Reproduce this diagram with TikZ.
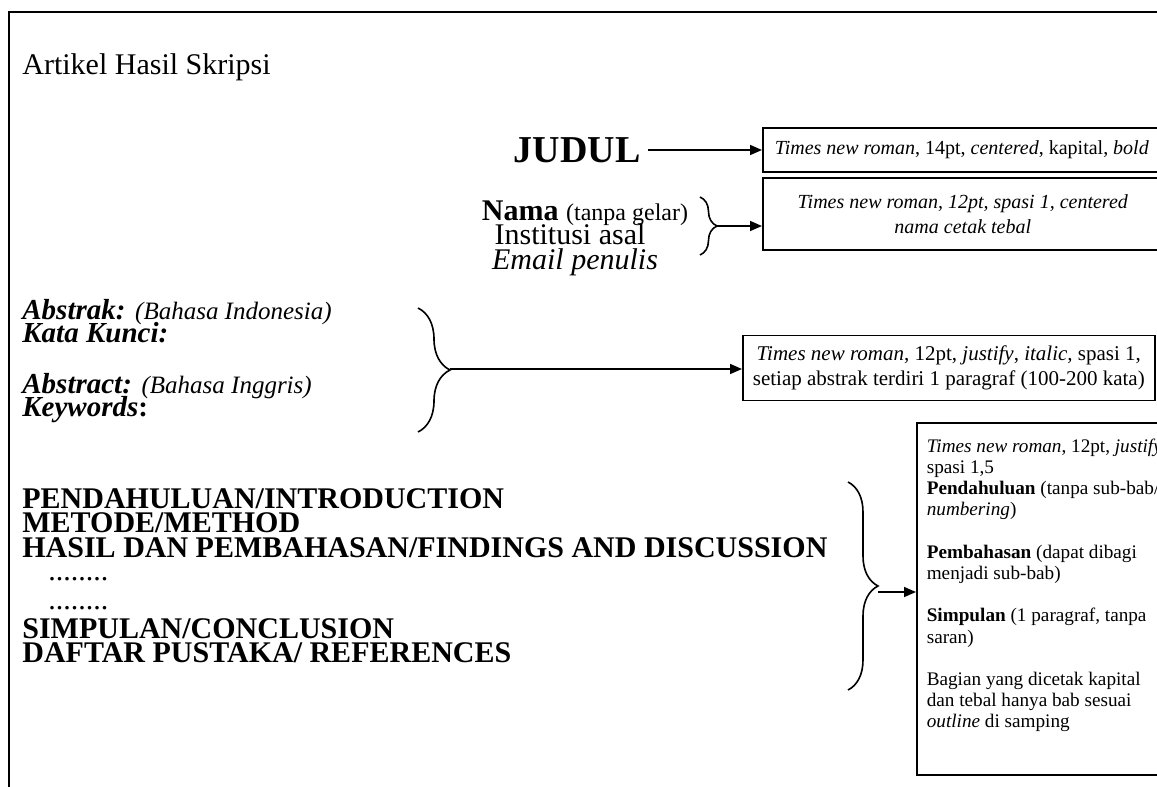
\documentclass[tikz,border=0pt]{standalone}
\usepackage{fontspec}
\setmainfont{Liberation Serif}
\usetikzlibrary{positioning}
\usetikzlibrary{decorations.pathreplacing}
\usetikzlibrary{arrows.meta}
\tikzset{%
  pointer/.style = {-{Triangle[length=6pt,width=5pt]},line width=0.8pt},
  curly/.style = {decorate,decoration={brace,amplitude=#1},line width=0.8pt},
  note/.style = {rectangle,draw,line width=0.8pt,inner xsep=5pt,
        font=\fontsize{10}{12.5}\selectfont},
  lbl/.style = {inner sep=0pt,anchor=base west},
  mid/.style = {inner sep=0pt,anchor=base,font=\fontsize{15}{17}\selectfont},
  head/.style = {lbl,font=\fontsize{15}{16}\selectfont\bfseries}
}

\begin{document}
\begin{tikzpicture}[x=0.5pt,y=-0.5pt]
    \clip (0,0) rectangle (1157,787);
    \useasboundingbox (0,0) rectangle (1157,787);
    \draw[line width=1pt] (1160,12) -- (9,12) -- (9,790);

    \node[lbl,font=\fontsize{15}{18}\selectfont] (title) at (22,74) {Artikel Hasil Skripsi};

    % judul
    \node[inner sep=0pt,anchor=base east,font=\fontsize{19}{21}\selectfont\bfseries]
        (judul) at (641,162) {JUDUL};
    \node[note,anchor=west,minimum width=199pt,minimum height=22pt] (box-judul) at (762,150)
        {\textit{Times new roman}, 14pt, \textit{centered}, kapital, \textit{bold}};
    \draw[pointer] (judul.east |- box-judul.west) ++(7,0) -- (box-judul.west);

    % nama
    \node[mid] (nama) at (585,220)
        {\textbf{Nama} {\fontsize{12}{14}\selectfont(tanpa gelar)}};
    \node[mid] (institusi) at (570,244) {Institusi asal};
    \node[mid,font=\fontsize{15}{17}\selectfont\itshape] (email) at (575,269) {Email penulis};
    \coordinate (nama-top) at (700,197);
    \coordinate (nama-bot) at (700,255);
    \draw[curly=8.5pt] (nama-top) -- (nama-bot);
    \coordinate (nama-tip) at (717,226);
    \node[note,anchor=west,align=center,minimum width=200pt,minimum height=36pt,
        font=\fontsize{10}{12.5}\selectfont\itshape] (box-nama) at (762,214)
        {Times new roman, 12pt, spasi 1, centered\\ nama cetak tebal};
    \draw[pointer] (nama-tip) -- (nama-tip -| box-nama.west);

    % abstrak
    \node[lbl,font=\fontsize{14.5}{17}\selectfont\bfseries\itshape] (abstrak) at (22,319)
        {Abstrak: {\fontsize{12.5}{14}\selectfont\mdseries(Bahasa Indonesia)}};
    \node[lbl,font=\fontsize{14.5}{17}\selectfont\bfseries\itshape] (kunci) at (22,342)
        {Kata Kunci:};
    \node[lbl,font=\fontsize{14.5}{17}\selectfont\bfseries\itshape] (abstract) at (22,393)
        {Abstract: {\fontsize{12.5}{14}\selectfont\mdseries(Bahasa Inggris)}};
    \node[lbl,font=\fontsize{14.5}{17}\selectfont\bfseries] (keywords) at (22,416)
        {\textit{Keywords}:};
    \coordinate (abs-top) at (418,308);
    \coordinate (abs-bot) at (418,432);
    \draw[curly=16pt] (abs-top) -- (abs-bot);
    \coordinate (abs-tip) at (450,369);
    \node[note,anchor=west,align=center,minimum width=206pt,minimum height=32.5pt,
        font=\fontsize{10.5}{12.5}\selectfont] (box-abstrak) at (742,368)
        {\textit{Times new roman}, 12pt, \textit{justify}, \textit{italic,} spasi 1,\\
         setiap abstrak terdiri 1 paragraf (100-200 kata)};
    \draw[pointer] (abs-tip) -- (abs-tip -| box-abstrak.west);

    % bab
    \node[head] (bab-1) at (22,508) {PENDAHULUAN/INTRODUCTION};
    \node[head] (bab-2) at (22,532) {METODE/METHOD};
    \node[head] (bab-3) at (22,557) {HASIL DAN PEMBAHASAN/FINDINGS AND DISCUSSION};
    \node[head,font=\fontsize{15}{16}\selectfont] (dots-1) at (48,580) {........};
    \node[head,font=\fontsize{15}{16}\selectfont] (dots-2) at (48,609) {........};
    \node[head] (bab-4) at (22,638) {SIMPULAN/CONCLUSION};
    \node[head] (bab-5) at (22,662) {DAFTAR PUSTAKA/ REFERENCES};
    \coordinate (bab-top) at (848,482);
    \coordinate (bab-bot) at (848,690);
    \draw[curly=15pt] (bab-top) -- (bab-bot);
    \coordinate (bab-tip) at (878,592);
    \node[note,anchor=north west,align=left,inner xsep=5pt,inner ysep=8pt,
        font=\fontsize{9.6}{10.6}\selectfont] (box-bab) at (916,422)
        {\textit{Times new roman}, 12pt, \textit{justify},\\
         spasi 1,5\\
         \textbf{Pendahuluan} (tanpa sub-bab/\\
         \textit{numbering})\\[10.6pt]
         \textbf{Pembahasan} (dapat dibagi\\
         menjadi sub-bab)\\[10.6pt]
         \textbf{Simpulan} (1 paragraf, tanpa\\
         saran)\\[10.6pt]
         Bagian yang dicetak kapital\\
         dan tebal hanya bab sesuai\\
         \textit{outline} di samping\\[5pt]
         \mbox{}};
    \draw[pointer] (bab-tip) -- (bab-tip -| box-bab.west);
\end{tikzpicture}
\end{document}
